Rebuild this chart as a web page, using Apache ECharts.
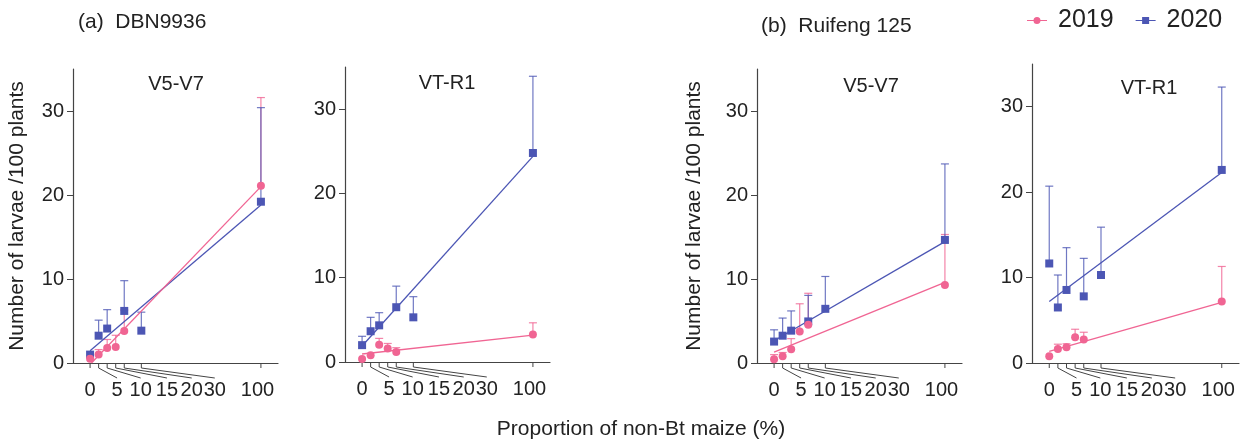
<!DOCTYPE html>
<html>
<head>
<meta charset="utf-8">
<script src="https://cdn.jsdelivr.net/npm/echarts@6/dist/echarts.min.js"></script>
<style>
  html, body { margin: 0; padding: 0; background: #fff; }
  #main { width: 1242px; height: 440px; }
</style>
</head>
<body>
<div id="main"></div>
<script>
var chart = echarts.init(document.getElementById('main'));

var pink = '#f06593';
var blue = '#4c56b4';
var axisColor = '#444';
var textColor = '#222';

// x axis: real tick positions and where their (spread out) labels sit
var xTicks = [0, 5, 10, 15, 20, 30, 100];
var xTickLabels = ['0', '5', '10', '15', '20', '30', '100'];
var xLabelSlots = [0, 15.8, 29.6, 45, 59.5, 73, 98];
var yTicks = [0, 10, 20, 30];

var panelTitles = ['V5-V7', 'VT-R1', 'V5-V7', 'VT-R1'];

// proportions of non-Bt maize that have a point
var x2019 = [0, 5, 10, 15, 20, 100];
var x2020 = [0, 5, 10, 20, 30, 100];

// means per panel (a V5-V7, a VT-R1, b V5-V7, b VT-R1)
var mean2019 = [
  [0.5, 1.0, 1.8, 1.9, 3.8, 21.1],
  [0.35, 0.8, 2.05, 1.6, 1.2, 3.25],
  [0.45, 0.8, 1.65, 3.75, 4.55, 9.3],
  [0.8, 1.65, 1.85, 3.0, 2.75, 7.2]
];
var upper2019 = [
  [0.5, 1.6, 2.8, 3.3, 6.3, 31.6],
  [0.35, 0.8, 2.8, 2.2, 1.7, 4.65],
  [1.0, 1.25, 2.9, 7.05, 8.3, 15.3],
  [0.8, 2.2, 2.25, 3.95, 3.6, 11.3]
];
var mean2020 = [
  [1.0, 3.25, 4.1, 6.2, 3.85, 19.2],
  [2.0, 3.65, 4.35, 6.5, 5.3, 24.8],
  [2.55, 3.25, 3.85, 4.95, 6.45, 14.65],
  [11.65, 6.5, 8.55, 7.8, 10.3, 22.6]
];
var upper2020 = [
  [1.0, 5.1, 6.35, 9.8, 6.05, 30.4],
  [3.05, 5.3, 5.85, 9.0, 7.75, 33.9],
  [3.95, 5.35, 6.2, 8.05, 10.3, 23.7],
  [20.7, 10.3, 13.5, 12.25, 15.9, 32.3]
];

// fitted lines, [start, end]
var fit2019 = [
  [[0.8, 0], [100, 21.0]],
  [[0, 0.95], [100, 3.2]],
  [[0, 1.3], [100, 9.6]],
  [[0, 1.35], [100, 7.1]]
];
var fit2020 = [
  [[0, 1.45], [100, 18.8]],
  [[0, 1.9], [100, 24.4]],
  [[0, 2.65], [100, 14.45]],
  [[0, 7.2], [100, 22.3]]
];

var grids = [
  { left: 73, top: 69, width: 205, height: 294 },
  { left: 345, top: 67, width: 205, height: 295 },
  { left: 757, top: 69, width: 205, height: 294 },
  { left: 1032, top: 64, width: 207, height: 299 }
];
var titlePos = [[176, 74], [447, 73], [871, 76], [1149, 78]];

function errBars(color) {
  return function (params, api) {
    var x = api.value(0);
    var lo = api.coord([x, api.value(1)]);
    var hi = api.coord([x, api.value(2)]);
    if (lo[1] - hi[1] < 1) return null;
    var st = { stroke: color, lineWidth: 1.2, opacity: 0.8 };
    return {
      type: 'group',
      children: [
        { type: 'line', shape: { x1: lo[0], y1: lo[1], x2: hi[0], y2: hi[1] }, style: st },
        { type: 'line', shape: { x1: hi[0] - 4, y1: hi[1], x2: hi[0] + 4, y2: hi[1] }, style: st }
      ]
    };
  };
}

// tick mark, slanted leader and label for each x tick
function tickLabels(params, api) {
  var k = params.dataIndex;
  var p = api.coord([api.value(0), 0]);
  var q = api.coord([api.value(2), 0]);
  var y0 = p[1];
  var pts = [[p[0], y0], [p[0], y0 + 5]];
  if (k > 0 && k < xTicks.length - 1) pts.push([q[0], y0 + 15]);
  return {
    type: 'group',
    children: [
      { type: 'polyline', shape: { points: pts }, style: { stroke: axisColor, lineWidth: 1, fill: null } },
      {
        type: 'text', x: q[0], y: y0 + 17,
        style: { text: xTickLabels[k], fill: textColor, font: '20px "Liberation Sans", Arial, sans-serif', align: 'center', verticalAlign: 'top' }
      }
    ]
  };
}

var option = {
  animation: false,
  textStyle: { fontFamily: '"Liberation Sans", Arial, sans-serif' },
  title: [
    { text: '(a)  DBN9936', left: 78, top: 12, padding: 0, textStyle: { fontSize: 21, fontWeight: 'normal', color: textColor } },
    { text: '(b)  Ruifeng 125', left: 761, top: 16, padding: 0, textStyle: { fontSize: 21, fontWeight: 'normal', color: textColor } },
    { text: 'Proportion of non-Bt maize (%)', left: 641, top: 419, padding: 0, textAlign: 'center', textStyle: { fontSize: 21, fontWeight: 'normal', color: textColor } }
  ],
  legend: {
    left: 1027, top: 8, padding: 0,
    itemWidth: 20, itemHeight: 8, itemGap: 22,
    textStyle: { fontSize: 25, color: textColor, padding: [0, 0, 0, 6] },
    data: [
      { name: '2019', icon: 'path://M0,3.4H20V4.6H0Z M10,0.5A3.5,3.5 0 1 1 9.99,0.5Z' },
      { name: '2020', icon: 'path://M0,3.4H20V4.6H0Z M6.5,0.5H13.5V7.5H6.5Z' }
    ]
  },
  grid: [],
  xAxis: [],
  yAxis: [],
  series: []
};

for (var i = 0; i < 4; i++) {
  option.grid.push(grids[i]);
  option.title.push({
    text: panelTitles[i], left: titlePos[i][0], top: titlePos[i][1], padding: 0, textAlign: 'center',
    textStyle: { fontSize: 20, fontWeight: 'normal', color: textColor }
  });
  option.xAxis.push({
    gridIndex: i, type: 'value', min: -10, max: 110,
    axisLine: { show: true, onZero: false, lineStyle: { color: axisColor, width: 1.2 } },
    axisTick: { show: false },
    axisLabel: { show: false },
    splitLine: { show: false }
  });
  option.yAxis.push({
    gridIndex: i, type: 'value', min: 0, max: 35, interval: 10,
    name: i % 2 === 0 ? 'Number of larvae /100 plants' : '',
    nameLocation: 'middle', nameGap: i === 0 ? 45 : 52,
    nameTextStyle: { fontSize: 21, color: textColor },
    axisLine: { show: true, onZero: false, lineStyle: { color: axisColor, width: 1.2 } },
    axisTick: { show: true, length: 6, customValues: yTicks, lineStyle: { color: axisColor } },
    axisLabel: { fontSize: 20, color: textColor, margin: 9, customValues: yTicks },
    splitLine: { show: false }
  });

  var s = option.series;
  s.push({
    type: 'custom', xAxisIndex: i, yAxisIndex: i, silent: true, z: 2,
    renderItem: errBars(pink), encode: { x: 0, y: [1, 2] },
    data: x2019.map(function (x, k) { return [x, mean2019[i][k], upper2019[i][k]]; })
  });
  s.push({
    type: 'custom', xAxisIndex: i, yAxisIndex: i, silent: true, z: 2,
    renderItem: errBars(blue), encode: { x: 0, y: [1, 2] },
    data: x2020.map(function (x, k) { return [x, mean2020[i][k], upper2020[i][k]]; })
  });
  s.push({
    type: 'line', xAxisIndex: i, yAxisIndex: i, silent: true, z: 3, symbol: 'none',
    lineStyle: { color: blue, width: 1.3 }, itemStyle: { color: blue },
    data: fit2020[i]
  });
  s.push({
    type: 'line', xAxisIndex: i, yAxisIndex: i, silent: true, z: 3, symbol: 'none',
    lineStyle: { color: pink, width: 1.3 }, itemStyle: { color: pink },
    data: fit2019[i]
  });
  s.push({
    type: 'scatter', name: '2020', xAxisIndex: i, yAxisIndex: i, z: 4,
    symbol: 'rect', symbolSize: 8, itemStyle: { color: blue, opacity: 1 },
    data: x2020.map(function (x, k) { return [x, mean2020[i][k]]; })
  });
  s.push({
    type: 'scatter', name: '2019', xAxisIndex: i, yAxisIndex: i, z: 5,
    symbol: 'circle', symbolSize: 8, itemStyle: { color: pink, opacity: 1 },
    data: x2019.map(function (x, k) { return [x, mean2019[i][k]]; })
  });
  s.push({
    type: 'custom', xAxisIndex: i, yAxisIndex: i, silent: true, clip: false,
    renderItem: tickLabels, encode: { x: 0, y: 1 },
    data: xTicks.map(function (t, k) { return [t, 0, xLabelSlots[k]]; })
  });
}

chart.setOption(option);
</script>
</body>
</html>
